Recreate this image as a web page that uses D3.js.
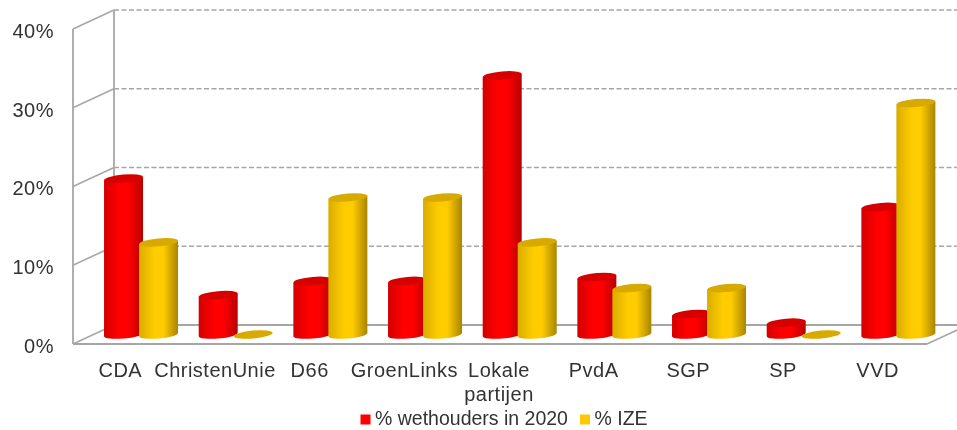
<!DOCTYPE html>
<html>
<head>
<meta charset="utf-8">
<script src="https://cdn.jsdelivr.net/npm/d3@7"></script>
<style>
  html, body { margin: 0; padding: 0; background: #fff; }
  svg { display: block; }
  text { font-family: "Liberation Sans", Arial, sans-serif; fill: #333; }
</style>
</head>
<body>
<svg id="chart" width="957" height="430"></svg>
<script>
var categories = ['CDA', 'ChristenUnie', 'D66', 'GroenLinks', 'Lokale partijen', 'PvdA', 'SGP', 'SP', 'VVD'];
var wethouders = [19.8, 5, 6.8, 6.8, 32.9, 7.3, 2.6, 1.5, 16.2];
var ize = [11.7, 0, 17.4, 17.4, 11.7, 5.9, 5.9, 0, 29.4];
var seriesNames = ['% wethouders in 2020', '% IZE'];
var yTicks = [0, 10, 20, 30, 40];

var svg = d3.select('#chart');
var wallDx = 41, wallDy = -19;   // depth of the 3d box
var midDx = 20.7, midDy = -9.5;  // bars stand half way in
var barW = 39;

var x = d3.scaleBand().domain(categories).range([73, 925]);
var y = d3.scaleLinear().domain([0, 40]).range([344, 29]);
var seriesX = d3.scalePoint().domain(seriesNames).range([-17.5, 17.5]);

var defs = svg.append('defs');
defs.append('filter').attr('id', 'soft').append('feGaussianBlur').attr('stdDeviation', 0.5);

function gradient(id, edge, mid, edge2) {
  var g = defs.append('linearGradient').attr('id', id);
  g.append('stop').attr('offset', '0%').attr('stop-color', edge);
  g.append('stop').attr('offset', '40%').attr('stop-color', mid);
  g.append('stop').attr('offset', '62%').attr('stop-color', mid);
  g.append('stop').attr('offset', '100%').attr('stop-color', edge2);
}
gradient('redBar', '#d40000', '#ff0000', '#b80000');
gradient('yellowBar', '#d9ad00', '#ffcc00', '#a98500');

var colors = {};
colors[seriesNames[0]] = { body: 'url(#redBar)', top: '#d60000', key: '#ff0000' };
colors[seriesNames[1]] = { body: 'url(#yellowBar)', top: '#d8aa00', key: '#ffc800' };

var root = svg.append('g').attr('filter', 'url(#soft)');

// walls and floor
var frame = root.append('g').attr('fill', 'none').attr('stroke', '#a6a6a6');
var xFront = 73, xEnd = 927;

frame.selectAll('.grid')
  .data(yTicks)
  .join('line')
  .attr('class', 'grid')
  .attr('x1', xFront + wallDx)
  .attr('x2', 968)
  .attr('y1', function(d){ return y(d) + wallDy; })
  .attr('y2', function(d){ return y(d) + wallDy; })
  .attr('stroke-width', function(d){ return d == 0 ? 2 : 1.5; })
  .attr('stroke-dasharray', function(d){ return d == 0 ? null : '5 2.5'; });

frame.selectAll('.side')
  .data(yTicks)
  .join('line')
  .attr('class', 'side')
  .attr('x1', xFront)
  .attr('x2', xFront + wallDx)
  .attr('y1', function(d){ return y(d); })
  .attr('y2', function(d){ return y(d) + wallDy; })
  .attr('stroke-width', 1.5);

frame.append('line').attr('x1', xFront).attr('x2', xFront).attr('y1', y(0)).attr('y2', y(40)).attr('stroke-width', 1.8);
frame.append('line').attr('x1', xFront + wallDx).attr('x2', xFront + wallDx).attr('y1', y(0) + wallDy).attr('y2', y(40) + wallDy).attr('stroke-width', 1.8);
frame.append('line').attr('x1', xFront).attr('x2', xEnd).attr('y1', y(0)).attr('y2', y(0)).attr('stroke-width', 2);
frame.append('line').attr('x1', xEnd).attr('x2', xEnd + wallDx).attr('y1', y(0)).attr('y2', y(0) + wallDy).attr('stroke-width', 1.5);

// cylinders
var barData = [];
categories.forEach(function(c, i){
  barData.push({ cat: c, name: seriesNames[0], value: wethouders[i] });
  barData.push({ cat: c, name: seriesNames[1], value: ize[i] });
});

var rx = barW / 2, ry = 4, tilt = -5;
var tiltY = rx * Math.sin(-tilt * Math.PI / 180);

var bars = root.selectAll('.bar')
  .data(barData)
  .join('g')
  .attr('class', 'bar')
  .attr('transform', function(d){
    return 'translate(' + (x(d.cat) + x.bandwidth() / 2 + midDx + seriesX(d.name)) + ',' + midDy + ')';
  });

bars.filter(function(d){ return d.value > 0; })
  .append('path')
  .attr('fill', function(d){ return colors[d.name].body; })
  .attr('d', function(d){
    var yb = y(0), yt = y(d.value);
    var rot = 'A' + rx + ' ' + ry + ' ' + tilt + ' 0 0 ';
    return 'M' + (-rx) + ' ' + (yt + tiltY)
      + 'L' + (-rx) + ' ' + (yb + tiltY)
      + rot + rx + ' ' + (yb - tiltY)
      + 'L' + rx + ' ' + (yt - tiltY)
      + 'Z';
  });

bars.append('ellipse')
  .attr('rx', rx)
  .attr('ry', ry)
  .attr('fill', function(d){ return colors[d.name].top; })
  .attr('transform', function(d){ return 'translate(0,' + y(d.value) + ') rotate(' + tilt + ')'; });

// axes, only the labels are visible
var yAxis = d3.axisLeft(y).tickValues(yTicks).tickSize(0).tickPadding(0)
  .tickFormat(function(d){ return d + '%'; });
var yG = root.append('g').attr('transform', 'translate(54,0)').call(yAxis);
yG.select('.domain').remove();
yG.selectAll('text').attr('font-size', 20).attr('letter-spacing', 0.5).attr('dy', '0.42em');

var xAxis = d3.axisBottom(x).tickSize(0).tickPadding(0).tickFormat('');
var xG = root.append('g').attr('transform', 'translate(0,377)').call(xAxis);
xG.select('.domain').remove();
xG.selectAll('.tick text').each(function(d){
  var t = d3.select(this).attr('font-size', 20).attr('letter-spacing', 0.5).attr('y', 0).attr('dy', 0);
  d.split(' ').forEach(function(word, i){
    t.append('tspan').attr('x', 0).attr('dy', i ? 24 : 0).text(word);
  });
});

// legend
var legendKeys = [360.5, 580];
var legendG = root.selectAll('.legend')
  .data(seriesNames)
  .join('g')
  .attr('class', 'legend')
  .attr('transform', function(d, i){ return 'translate(' + legendKeys[i] + ',414.5)'; });
legendG.append('rect')
  .attr('width', 10).attr('height', 10)
  .attr('fill', function(d){ return colors[d].key; });
legendG.append('text')
  .attr('x', 14.5).attr('y', 10.5)
  .attr('font-size', 19.5)
  .text(function(d){ return d; });
</script>
</body>
</html>
